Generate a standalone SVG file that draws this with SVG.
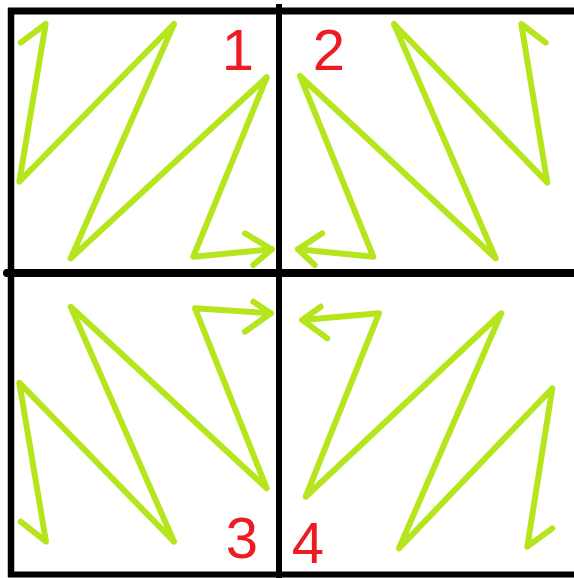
<svg xmlns="http://www.w3.org/2000/svg" width="574" height="578" viewBox="0 0 574 578">
  <style>
    .frame { stroke: #000; fill: none; stroke-linecap: butt; }
    .zig { stroke: #b5e61d; stroke-width: 6; fill: none; stroke-linecap: round; stroke-linejoin: round; }
    .num { fill: #ed1c24; font-family: "Liberation Sans", Arial, sans-serif; font-size: 58px; text-anchor: middle; }
  </style>
  <rect width="574" height="578" fill="#fff"/>
  <g id="grid">
    <line class="frame" x1="8" y1="11" x2="574" y2="11" stroke-width="7"/>
    <line class="frame" x1="11" y1="8" x2="11" y2="577" stroke-width="6.5"/>
    <line class="frame" x1="8" y1="574.5" x2="574" y2="574.5" stroke-width="6"/>
    <line class="frame" x1="279" y1="4" x2="279" y2="578" stroke-width="6"/>
    <line class="frame" x1="6" y1="273" x2="574" y2="273" stroke-width="8"/>
    <circle cx="7" cy="273" r="4" fill="#000"/>
  </g>
  <g id="quadrant-1">
    <polyline class="zig" points="20.7,42.7 45.7,24 19.3,181.7 174,24 70.7,258.3 266.7,77.3 193.3,256.7 271.7,249.3"/>
    <polyline class="zig" points="245,233.3 271.7,249.3 253.3,265"/>
    <text class="num" x="238" y="70">1</text>
  </g>
  <g id="quadrant-2">
    <polyline class="zig" points="545.7,42.7 521.3,24 547.3,182.7 394,24 495.7,258.3 300,76 373.3,256.7 298,249.3"/>
    <polyline class="zig" points="322.3,233.3 298,249.3 314.7,265"/>
    <text class="num" x="329" y="70">2</text>
  </g>
  <g id="quadrant-3">
    <polyline class="zig" points="20.7,521.7 46,541.7 19.3,382.7 174,541.7 70.7,306.7 266.7,488.3 195,308.3 270.7,313.3"/>
    <polyline class="zig" points="253.3,301.7 270.7,313.3 245,331.7"/>
    <text class="num" x="242" y="558">3</text>
  </g>
  <g id="quadrant-4">
    <polyline class="zig" points="552.3,528.3 527.3,546.7 552.3,388.3 399,548.3 501.3,313.3 305.7,496.7 379,313.3 302.3,320"/>
    <polyline class="zig" points="320.7,306.7 302.3,320 327.3,338.3"/>
    <text class="num" x="308" y="563">4</text>
  </g>
</svg>
